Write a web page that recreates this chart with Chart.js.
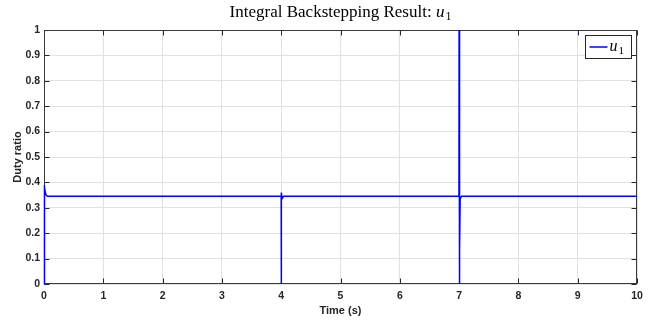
<!DOCTYPE html>
<html>
<head>
<meta charset="utf-8">
<script src="https://cdn.jsdelivr.net/npm/chart.js@4/dist/chart.umd.min.js"></script>
<style>
  html, body { margin: 0; padding: 0; background: #ffffff; }
  #wrap { width: 652px; height: 324px; }
</style>
</head>
<body>
<div id="wrap"><canvas id="c" width="652" height="324"></canvas></div>
<script>
// Duty-ratio command u1 of the integral backstepping controller
const timeS = [0, 0.004, 0.012, 0.025, 0.04, 0.06, 0.1,
  3.995, 4.0, 4.0, 4.005, 4.015, 4.04,
  6.998, 7.0, 7.0, 7.015, 7.018, 7.04, 10];
const dutyU1 = [0, 0.39, 0.38, 0.357, 0.348, 0.345, 0.345,
  0.345, 0.345, 0, 0.36, 0.336, 0.345,
  0.345, 1.0, 0, 0.134, 0.335, 0.345, 0.345];

const xTicks = [0, 1, 2, 3, 4, 5, 6, 7, 8, 9, 10];
const yTicks = [0, 0.1, 0.2, 0.3, 0.4, 0.5, 0.6, 0.7, 0.8, 0.9, 1];
const yTickLabels = ['0', '0.1', '0.2', '0.3', '0.4', '0.5', '0.6', '0.7', '0.8', '0.9', '1'];

const titleMain = 'Integral Backstepping Result: ';
const titleVar = 'u';
const titleSub = '1';
const seriesName = 'u';
const seriesSub = '1';
const xLabel = 'Time (s)';
const yLabel = 'Duty ratio';

const axisColor = '#262626';
const gridColor = '#e1e1e1';
const lineColor = '#0000ff';
const sansBold = '"Liberation Sans", Arial, sans-serif';

// Title with italic math variable and subscript
const titlePlugin = {
  id: 'mathTitle',
  afterDraw(chart) {
    const ctx = chart.ctx;
    const area = chart.chartArea;
    ctx.save();
    ctx.fillStyle = '#000000';
    ctx.textBaseline = 'alphabetic';
    const fMain = '17px "Liberation Serif", serif';
    const fVar = 'italic 17px "Liberation Serif", serif';
    const fSub = '12px "Liberation Serif", serif';
    ctx.font = fMain; const w1 = ctx.measureText(titleMain).width;
    ctx.font = fVar; const w2 = ctx.measureText(titleVar).width;
    ctx.font = fSub; const w3 = ctx.measureText(titleSub).width;
    const total = w1 + w2 + w3 + 1;
    let x = (area.left + area.right) / 2 - total / 2;
    const y = 17;
    ctx.font = fMain; ctx.fillText(titleMain, x, y); x += w1;
    ctx.font = fVar; ctx.fillText(titleVar, x, y); x += w2 + 1;
    ctx.font = fSub; ctx.fillText(titleSub, x, y + 3);
    ctx.restore();
  }
};

// Axes box with inward tick marks on all four sides (drawn beneath the curve)
const boxPlugin = {
  id: 'axesBox',
  beforeDatasetsDraw(chart) {
    const ctx = chart.ctx;
    const a = chart.chartArea;
    const sx = chart.scales.x, sy = chart.scales.y;
    const L = Math.round(a.left) + 0.5, R = Math.round(a.right) - 0.5;
    const T = Math.round(a.top) + 0.5, B = Math.round(a.bottom) - 0.5;
    ctx.save();
    ctx.strokeStyle = axisColor;
    ctx.lineWidth = 1;
    ctx.beginPath();
    xTicks.forEach(v => {
      const px = Math.round(sx.getPixelForValue(v)) + 0.5;
      ctx.moveTo(px, B); ctx.lineTo(px, B - 5);
      ctx.moveTo(px, T); ctx.lineTo(px, T + 5);
    });
    yTicks.forEach(v => {
      const py = Math.round(sy.getPixelForValue(v)) + 0.5;
      ctx.moveTo(L, py); ctx.lineTo(L + 5, py);
      ctx.moveTo(R, py); ctx.lineTo(R - 5, py);
    });
    ctx.stroke();
    ctx.strokeStyle = '#3a3a3a';
    ctx.strokeRect(L, T, R - L, B - T);
    ctx.restore();
  }
};

// Boxed legend in the upper right corner
const legendPlugin = {
  id: 'boxLegend',
  afterDraw(chart) {
    const ctx = chart.ctx;
    const a = chart.chartArea;
    const w = 46, h = 23;
    const x0 = Math.round(a.right) - 6 - w + 0.5;
    const y0 = Math.round(a.top) + 5 + 0.5;
    ctx.save();
    ctx.fillStyle = '#ffffff';
    ctx.fillRect(x0, y0, w, h);
    ctx.strokeStyle = axisColor;
    ctx.lineWidth = 1;
    ctx.strokeRect(x0, y0, w, h);
    const my = y0 + h / 2;
    ctx.strokeStyle = chart.data.datasets[0].borderColor;
    ctx.lineWidth = 1.5;
    ctx.beginPath();
    ctx.moveTo(x0 + 4, my); ctx.lineTo(x0 + 22, my);
    ctx.stroke();
    ctx.fillStyle = '#000000';
    ctx.textBaseline = 'alphabetic';
    ctx.font = 'italic 16px "Liberation Serif", serif';
    ctx.fillText(seriesName, x0 + 24, my + 4);
    const wu = ctx.measureText(seriesName).width;
    ctx.font = '11px "Liberation Serif", serif';
    ctx.fillText(seriesSub, x0 + 24 + wu + 1, my + 7);
    ctx.restore();
  }
};

new Chart(document.getElementById('c'), {
  type: 'line',
  data: {
    datasets: [{
      label: 'u1',
      data: timeS.map((t, i) => ({ x: t, y: dutyU1[i] })),
      borderColor: lineColor,
      backgroundColor: lineColor,
      borderWidth: 1.5,
      pointRadius: 0,
      tension: 0,
      fill: false,
      clip: { left: 2, right: 1, top: 0, bottom: 1 }
    }]
  },
  options: {
    responsive: false,
    animation: false,
    devicePixelRatio: 1,
    layout: { padding: { top: 30, right: 15, left: 0, bottom: 0 } },
    plugins: {
      legend: { display: false },
      tooltip: { enabled: false },
      title: { display: false }
    },
    scales: {
      x: {
        type: 'linear',
        min: 0,
        max: 10,
        afterBuildTicks: s => { s.ticks = xTicks.map(v => ({ value: v })); },
        afterFit: s => { s.height = 40; },
        ticks: {
          color: axisColor,
          font: { family: sansBold, size: 10.5, weight: 'bold' },
          padding: 6,
          maxRotation: 0,
          callback: v => String(v)
        },
        grid: { color: gridColor, drawTicks: false, lineWidth: 1 },
        border: { display: false },
        title: {
          display: true,
          text: xLabel,
          color: axisColor,
          font: { family: sansBold, size: 11, weight: 'bold' },
          padding: { top: 0, bottom: 6 }
        }
      },
      y: {
        type: 'linear',
        min: 0,
        max: 1,
        afterBuildTicks: s => { s.ticks = yTicks.map(v => ({ value: v })); },
        afterFit: s => { s.width = 44; },
        ticks: {
          color: axisColor,
          font: { family: sansBold, size: 10.5, weight: 'bold' },
          padding: 4,
          callback: (v, i) => yTickLabels[i]
        },
        grid: { color: gridColor, drawTicks: false, lineWidth: 1 },
        border: { display: false },
        title: {
          display: true,
          text: yLabel,
          color: axisColor,
          font: { family: sansBold, size: 11, weight: 'bold' },
          padding: { top: 11, bottom: 0 }
        }
      }
    }
  },
  plugins: [boxPlugin, titlePlugin, legendPlugin]
});
</script>
</body>
</html>
